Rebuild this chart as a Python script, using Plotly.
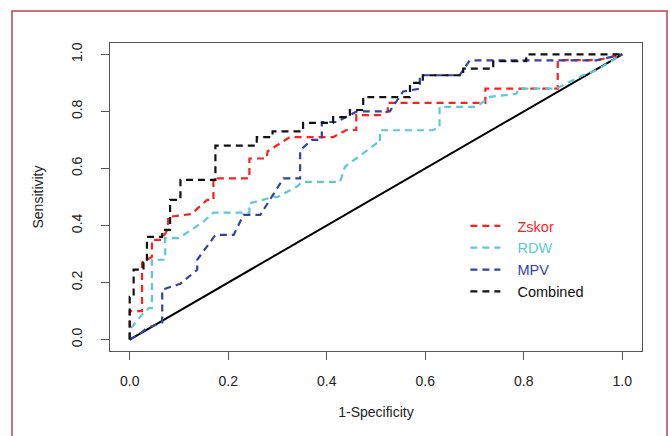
import plotly.graph_objects as go

# ---- data ----
tick_vals = [0.0, 0.2, 0.4, 0.6, 0.8, 1.0]
tick_text = ["0.0", "0.2", "0.4", "0.6", "0.8", "1.0"]

zskor_x = [0, 0, 0.025, 0.025, 0.045, 0.045, 0.065, 0.078, 0.078, 0.125, 0.157, 0.17, 0.17, 0.23, 0.243,
           0.243, 0.278, 0.28, 0.325, 0.413, 0.44, 0.46, 0.46, 0.508, 0.524, 0.524, 0.71, 0.722, 0.722,
           0.866, 0.869, 0.869, 0.95, 1.0]
zskor_y = [0, 0.10, 0.10, 0.27, 0.29, 0.35, 0.35, 0.39, 0.43, 0.44, 0.49, 0.49, 0.565, 0.565, 0.565,
           0.635, 0.635, 0.66, 0.71, 0.71, 0.735, 0.735, 0.787, 0.787, 0.80, 0.83, 0.83, 0.83, 0.88,
           0.88, 0.88, 0.98, 0.98, 1.0]

rdw_x = [0, 0, 0.028, 0.039, 0.045, 0.045, 0.072, 0.072, 0.10, 0.15, 0.17, 0.231, 0.243, 0.243, 0.292,
         0.30, 0.339, 0.35, 0.427, 0.437, 0.501, 0.508, 0.508, 0.615, 0.629, 0.629, 0.704, 0.731, 0.785,
         0.79, 0.866, 0.92, 0.947, 1.0]
rdw_y = [0, 0.035, 0.093, 0.11, 0.11, 0.28, 0.28, 0.356, 0.356, 0.414, 0.445, 0.445, 0.445, 0.478, 0.50,
         0.50, 0.536, 0.553, 0.553, 0.606, 0.688, 0.688, 0.734, 0.734, 0.745, 0.816, 0.816, 0.851, 0.862,
         0.88, 0.88, 0.927, 0.944, 1.0]

mpv_x = [0, 0.02, 0.035, 0.066, 0.066, 0.103, 0.137, 0.137, 0.174, 0.211, 0.231, 0.265, 0.312, 0.332,
         0.346, 0.346, 0.37, 0.39, 0.39, 0.42, 0.461, 0.528, 0.548, 0.555, 0.589, 0.589, 0.67, 0.69,
         0.947, 1.0]
mpv_y = [0, 0.02, 0.04, 0.06, 0.175, 0.196, 0.245, 0.28, 0.367, 0.367, 0.437, 0.437, 0.565, 0.565,
         0.565, 0.664, 0.70, 0.70, 0.763, 0.763, 0.80, 0.80, 0.85, 0.87, 0.88, 0.927, 0.927, 0.979,
         0.979, 1.0]

comb_x = [0, 0, 0.008, 0.008, 0.028, 0.028, 0.035, 0.035, 0.066, 0.066, 0.082, 0.082, 0.103, 0.103,
          0.174, 0.174, 0.258, 0.258, 0.29, 0.29, 0.352, 0.352, 0.413, 0.413, 0.447, 0.447, 0.474,
          0.474, 0.569, 0.569, 0.595, 0.595, 0.677, 0.677, 0.738, 0.738, 0.805, 0.805, 1.0]
comb_y = [0, 0.15, 0.15, 0.245, 0.245, 0.27, 0.27, 0.36, 0.36, 0.385, 0.385, 0.49, 0.49, 0.56,
          0.56, 0.68, 0.68, 0.71, 0.71, 0.73, 0.73, 0.76, 0.76, 0.78, 0.78, 0.805, 0.805,
          0.85, 0.85, 0.90, 0.90, 0.927, 0.927, 0.95, 0.95, 0.976, 0.976, 1.0, 1.0]

ref_x = [0, 1]
ref_y = [0, 1]

series = [
    ("Zskor", zskor_x, zskor_y, "#ff1f1f"),
    ("RDW", rdw_x, rdw_y, "#5cc8d8"),
    ("MPV", mpv_x, mpv_y, "#3342a8"),
    ("Combined", comb_x, comb_y, "#111111"),
]

W, H = 670, 436
ML, MR, MT, MB = 110, 28, 43, 85

fig = go.Figure()

fig.add_trace(go.Scatter(x=ref_x, y=ref_y, mode="lines", showlegend=False,
                         line=dict(color="black", width=2), hoverinfo="skip"))

for name, xs, ys, col in series:
    fig.add_trace(go.Scatter(
        x=xs, y=ys, mode="lines",
        name=f"\u00a0\u00a0\u00a0<span style='color:{col}'>{name}</span>",
        line=dict(color=col, width=2.2, dash="7px,5px"),
    ))

font_family = "Liberation Sans, Arial, sans-serif"

axis_common = dict(
    range=[-0.04, 1.04], tickvals=tick_vals, ticktext=tick_text,
    showgrid=False, zeroline=False, showline=True, mirror=True,
    linecolor="#555555", linewidth=1.2,
    ticks="outside", ticklen=8, tickcolor="#555555", tickwidth=1.2,
    tickfont=dict(family=font_family, size=14, color="#222222"),
)

fig.update_layout(
    width=W, height=H,
    margin=dict(l=ML, r=MR, t=MT, b=MB),
    paper_bgcolor="white", plot_bgcolor="white",
    font=dict(family=font_family, size=14, color="#222222"),
    xaxis=dict(**axis_common,
               title=dict(text="1-Specificity", font=dict(size=14), standoff=19),
               ticklabelstandoff=9),
    yaxis=dict(**axis_common, tickangle=-90,
               title=dict(text="Sensitivity", font=dict(size=14), standoff=22),
               ticklabelstandoff=13),
    legend=dict(x=0.668, y=0.458, xanchor="left", yanchor="top",
                bgcolor="rgba(0,0,0,0)", borderwidth=0,
                font=dict(family=font_family, size=14.5)),
    showlegend=True,
)

# decorative red frame around the figure (pixel -> paper coordinates)
pw, ph = W - ML - MR, H - MT - MB
def px_x(p):
    return (p - ML) / pw
def px_y(p):
    return 1 - (p - MT) / ph

fig.add_shape(type="rect", xref="paper", yref="paper",
              x0=px_x(12), x1=px_x(667), y0=px_y(445), y1=px_y(11),
              line=dict(color="#c0414c", width=1.5), fillcolor="rgba(0,0,0,0)", layer="below")

fig.write_html("out.html", config={"displayModeBar": False},
               post_script="document.body.style.margin='0px';document.body.style.padding='0px';")
